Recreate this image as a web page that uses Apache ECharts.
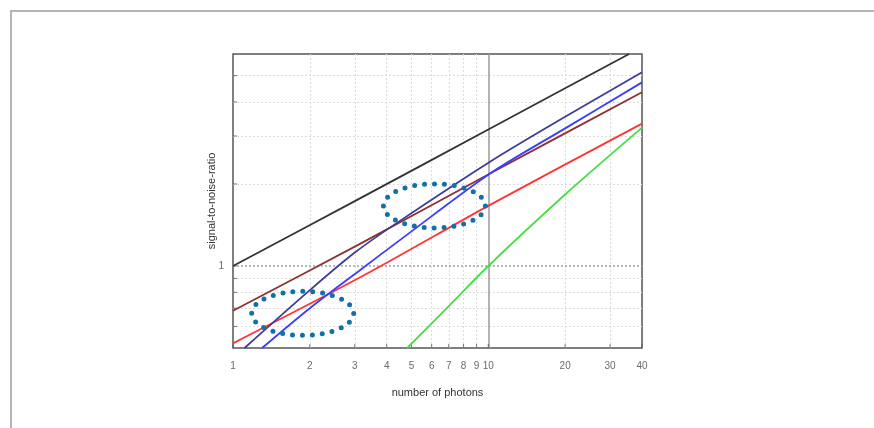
<!DOCTYPE html>
<html>
<head>
<meta charset="utf-8">
<script src="https://cdn.jsdelivr.net/npm/echarts@6/dist/echarts.min.js"></script>
<style>html,body{margin:0;padding:0;background:#fff}#c{width:874px;height:428px}</style>
</head>
<body>
<div id="c"></div>
<script>
// ---- data ----
const xTickValues = [1, 2, 3, 4, 5, 6, 7, 8, 9, 10, 20, 30, 40];
const xGridValues = [2, 3, 4, 5, 6, 7, 8, 9, 20, 30];
const yGridValues = [0.6, 0.7, 0.8, 0.9, 2, 3, 4, 5];
const yLabelValues = [1];

const blackLine = [[1, 1.0], [3, 1.73], [10, 3.17], [35.6, 6.0]];
const brownLine = [[1, 0.685], [3.21, 1.218], [10.2, 2.19], [40, 4.34]];
const redLine = [[1, 0.52], [3.3, 0.93], [10.2, 1.68], [40, 3.33]];
const navyLine = [[1.11, 0.5], [2.0, 0.815], [3.0, 1.12], [4.46, 1.455], [10.2, 2.42], [20, 3.53], [40, 5.14]];
const blueLine = [[1.3, 0.5], [2.0, 0.70], [3.15, 0.967], [4.74, 1.29], [10.2, 2.19], [20, 3.2], [40, 4.72]];
const greenLine = [[4.81, 0.5], [7, 0.712], [10, 1.0], [20, 1.83], [40, 3.22]];

// annotation ellipses: centres in data coordinates
const ellipseCentres = [[6.15, 1.662], [1.875, 0.67]];

const FONT = 'Liberation Sans, Arial, sans-serif';
const chart = echarts.init(document.getElementById('c'));

function dataLine(data, color) {
  return {
    type: 'line', data: data, showSymbol: false, symbol: 'none', smooth: 0.3,
    lineStyle: { color: color, width: 1.8 }, z: 10, silent: true, clip: true
  };
}

const option = {
  animation: false,
  grid: { left: 233, top: 54, right: 232, bottom: 80, show: true, borderColor: '#555', borderWidth: 1.5, backgroundColor: 'transparent' },
  xAxis: {
    type: 'log', logBase: 10, min: 1, max: 40,
    name: 'number of photons', nameLocation: 'middle', nameGap: 39,
    nameTextStyle: { fontFamily: FONT, fontSize: 11, color: '#333' },
    axisLine: { show: false }, axisTick: { show: false }, axisLabel: { show: false },
    splitLine: { show: false }, minorTick: { show: false }, minorSplitLine: { show: false }
  },
  yAxis: {
    type: 'log', logBase: 10, min: 0.5, max: 6,
    name: 'signal-to-noise-ratio', nameLocation: 'middle', nameGap: 16,
    nameTextStyle: { fontFamily: FONT, fontSize: 11, color: '#333' },
    axisLine: { show: false }, axisTick: { show: false }, axisLabel: { show: false },
    splitLine: { show: false }, minorTick: { show: false }, minorSplitLine: { show: false }
  },
  series: [
    // grid lines
    {
      type: 'scatter', data: [], z: 1, silent: true,
      markLine: {
        z: 1, zlevel: 0,
        silent: true, symbol: 'none', animation: false, label: { show: false },
        data: [
          ...xGridValues.map(v => ({ xAxis: v, lineStyle: { color: '#dcdcdc', type: [2, 2], width: 1 } })),
          ...yGridValues.map(v => ({ yAxis: v, lineStyle: { color: '#dcdcdc', type: [2, 2], width: 1 } })),
          ...yLabelValues.map(v => ({ yAxis: v, lineStyle: { color: '#a0a0a0', type: [2, 2], width: 1.5 } })),
          { xAxis: 10, lineStyle: { color: '#9a9a9a', type: 'solid', width: 1.5 } }
        ]
      }
    },
    // x tick marks + labels
    {
      type: 'scatter', z: 4, silent: true,
      data: xTickValues.map(v => [v, 0.5]),
      symbol: 'rect', symbolSize: [1, 4], symbolOffset: [0, -2],
      itemStyle: { color: '#555' },
      label: { show: true, position: 'bottom', distance: 13, formatter: p => String(p.value[0]), fontFamily: FONT, fontSize: 10, color: '#444' }
    },
    // y tick marks
    {
      type: 'scatter', z: 4, silent: true,
      data: yGridValues.concat(yLabelValues).map(v => [1, v]),
      symbol: 'rect', symbolSize: [4, 1], symbolOffset: [2, 0],
      itemStyle: { color: '#555' }
    },
    // y labels
    {
      type: 'scatter', z: 4, silent: true,
      data: yLabelValues.map(v => [1, v]),
      symbolSize: 0,
      label: { show: true, position: 'left', distance: 9, formatter: p => String(p.value[1]), fontFamily: FONT, fontSize: 10, color: '#444' }
    },
    dataLine(greenLine, '#44e044'),
    dataLine(redLine, '#ff3434'),
    dataLine(brownLine, '#8c3030'),
    dataLine(blueLine, '#3c3cff'),
    dataLine(navyLine, '#3d3d96'),
    dataLine(blackLine, '#333333')
  ]
};
chart.setOption(option);

const RX = 51, RY = 22, DOTS = 24;
const perim = Math.PI * (3 * (RX + RY) - Math.sqrt((3 * RX + RY) * (RX + 3 * RY)));
const ellipses = ellipseCentres.map(c => {
  const p = chart.convertToPixel({ gridIndex: 0 }, c);
  return {
    type: 'ellipse', z: 100, silent: true,
    shape: { cx: p[0], cy: p[1], rx: RX, ry: RY },
    style: { fill: 'none', stroke: '#1170a8', lineWidth: 5, lineDash: [0, perim / DOTS], lineCap: 'round' }
  };
});

chart.setOption({
  graphic: [
    { type: 'rect', silent: true, z: 100, shape: { x: 11, y: 11, width: 900, height: 500 }, style: { fill: 'none', stroke: '#b5b5b5', lineWidth: 2 } },
    ...ellipses
  ]
});
</script>
</body>
</html>
